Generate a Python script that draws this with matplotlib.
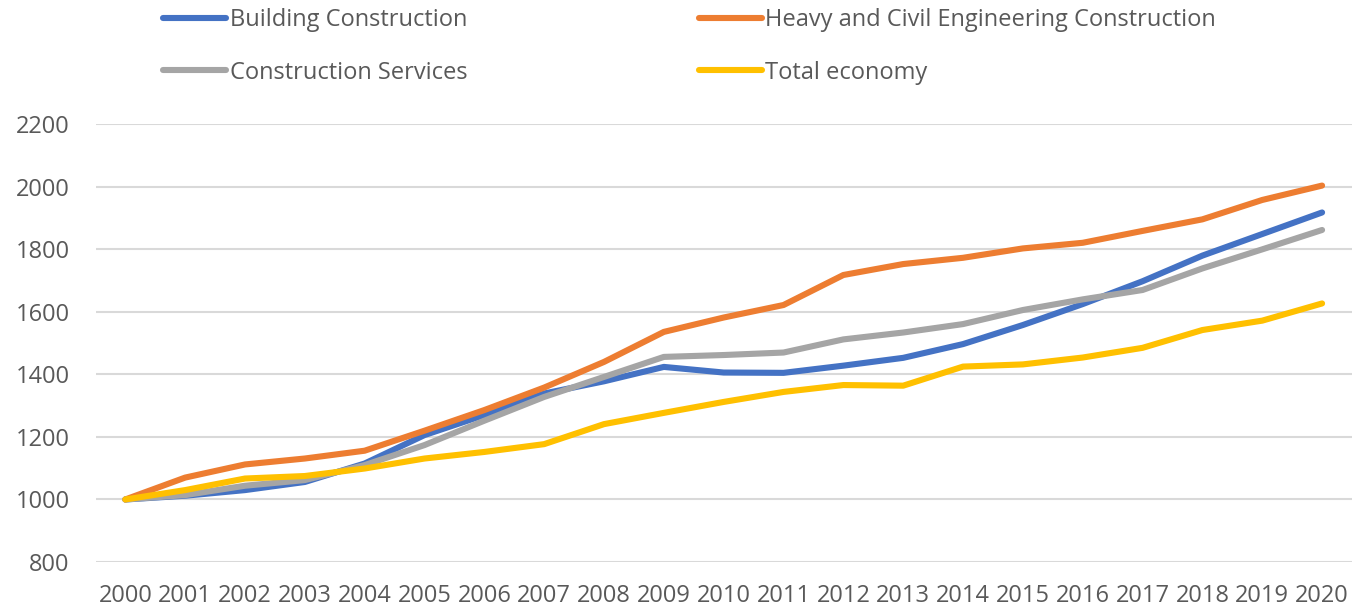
import matplotlib
matplotlib.use("Agg")
import matplotlib.pyplot as plt

# data (index values, 2000 = 1000)
years = list(range(2000, 2021))
building = [1000, 1012, 1030, 1056, 1115, 1206, 1270, 1339, 1378, 1424, 1406, 1405,
            1428, 1453, 1497, 1558, 1625, 1698, 1780, 1849, 1918]
heavy = [1000, 1070, 1112, 1131, 1156, 1220, 1286, 1358, 1440, 1536, 1582, 1622,
         1718, 1753, 1773, 1803, 1821, 1859, 1896, 1958, 2004]
services = [1000, 1014, 1044, 1062, 1110, 1174, 1252, 1328, 1392, 1456, 1462, 1470,
            1512, 1534, 1561, 1606, 1640, 1670, 1739, 1800, 1862]
total = [1000, 1030, 1067, 1075, 1099, 1131, 1152, 1177, 1241, 1277, 1312, 1344,
         1366, 1364, 1425, 1432, 1454, 1485, 1542, 1572, 1627]

labels = ["Building Construction", "Heavy and Civil Engineering Construction",
          "Construction Services", "Total economy"]
colors = ["#4472C4", "#ED7D31", "#A5A5A5", "#FFC000"]
yticks = [800, 1000, 1200, 1400, 1600, 1800, 2000, 2200]

plt.rcParams['font.family'] = ['Open Sans', 'DejaVu Sans']
text_col = "#595959"

fig = plt.figure(figsize=(13.55, 6.1), dpi=100)
ax = fig.add_axes([96 / 1355, 1 - 562 / 610, (1352 - 96) / 1355, (562 - 124.3) / 610])

x = list(range(len(years)))
lines = {}
for name, vals, c in zip(labels, [building, heavy, services, total], colors):
    ln, = ax.plot(x, vals, color=c, lw=4.4, solid_capstyle='round',
                  solid_joinstyle='round', label=name)
    lines[name] = ln

ax.set_xlim(-0.49, 20.5)
ax.set_ylim(800, 2200)
ax.set_yticks(yticks)
ax.set_xticks(x)
ax.set_xticklabels([str(y) for y in years])
ax.grid(axis='y', color='#D9D9D9', lw=1.5)
ax.set_axisbelow(True)
for s in ax.spines.values():
    s.set_visible(False)
ax.tick_params(axis='y', length=0, pad=19, labelsize=17, labelcolor=text_col)
ax.tick_params(axis='x', length=0, pad=16, labelsize=17, labelcolor=text_col)

# legend: two columns, column-wise fill
order = [labels[0], labels[2], labels[1], labels[3]]
fig.legend([lines[k] for k in order], order, ncol=2, loc='upper left',
           bbox_to_anchor=(162 / 1355, 1 - 7 / 610), frameon=False, fontsize=17,
           handlelength=2.67, handletextpad=0.15, columnspacing=9.8,
           labelspacing=1.2, borderaxespad=0, borderpad=0.05,
           labelcolor=text_col)

fig.savefig("out.png", dpi=100)
